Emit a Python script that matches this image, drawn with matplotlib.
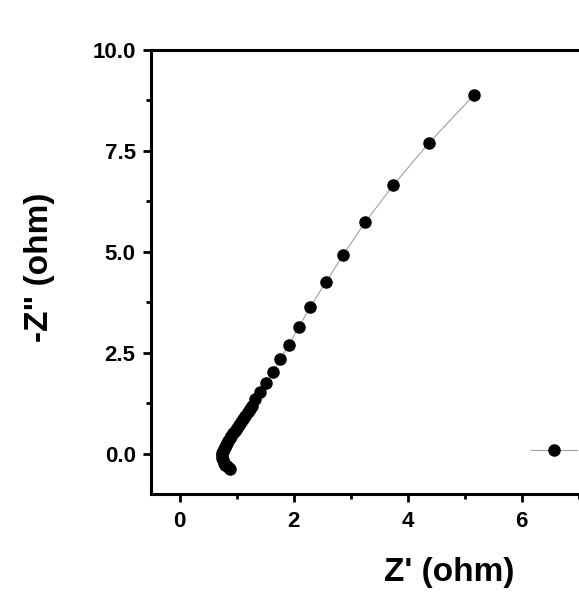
import matplotlib
matplotlib.use("Agg")
import matplotlib.pyplot as plt
from matplotlib.ticker import MultipleLocator

# Nyquist data: Z' (ohm) and -Z'' (ohm)
z_real = [5.163, 4.381, 3.754, 3.258, 2.872, 2.565, 2.298, 2.088, 1.918, 1.767,
          1.637, 1.518, 1.421, 1.330, 1.275,
          1.235, 1.195, 1.155, 1.115, 1.075, 1.040, 1.005, 0.970, 0.940, 0.910,
          0.880, 0.855, 0.830, 0.810, 0.790, 0.775, 0.760, 0.750, 0.745,
          0.745, 0.755, 0.775, 0.800, 0.830, 0.860, 0.880]
z_imag = [8.879, 7.705, 6.658, 5.735, 4.926, 4.243, 3.639, 3.126, 2.691, 2.334,
          2.012, 1.745, 1.517, 1.354, 1.188,
          1.100, 1.020, 0.940, 0.860, 0.780, 0.710, 0.640, 0.570, 0.500, 0.440,
          0.380, 0.320, 0.260, 0.210, 0.160, 0.110, 0.060, 0.010, -0.040,
          -0.100, -0.160, -0.220, -0.270, -0.310, -0.350, -0.370]

x_ticks = [0, 2, 4, 6]
y_ticks = [0.0, 2.5, 5.0, 7.5, 10.0]
x_label = "Z' (ohm)"
y_label = '-Z" (ohm)'

plt.rcParams['font.family'] = ['Liberation Sans', 'DejaVu Sans']
plt.rcParams['font.weight'] = 'bold'

W, H = 579, 594
fig = plt.figure(figsize=(W / 100, H / 100), dpi=100)
left_px, right_px, top_px, bot_px = 151, 749.5, 50, 494
ax = fig.add_axes([left_px / W, 1 - bot_px / H, (right_px - left_px) / W, (bot_px - top_px) / H])

line, = ax.plot(z_real, z_imag, color='#a0a0a0', lw=0.8, marker='o', ms=8,
                mfc='black', mec='black')

ax.set_xlim(-0.5, 10)
ax.set_ylim(-1, 10)
ax.set_xticks(x_ticks)
ax.set_yticks(y_ticks)
ax.set_yticklabels([f"{v:.1f}" for v in y_ticks])
ax.xaxis.set_minor_locator(MultipleLocator(1))
ax.yaxis.set_minor_locator(MultipleLocator(1.25))

for s in ax.spines.values():
    s.set_linewidth(2.2)
ax.tick_params(which='major', direction='out', length=6, width=2, labelsize=16)
ax.tick_params(which='minor', direction='out', length=3.5, width=2)
ax.tick_params(axis='x', which='major', pad=6)
ax.tick_params(axis='y', which='major', pad=5)
for lab in ax.get_xticklabels() + ax.get_yticklabels():
    lab.set_fontweight('bold')

fig.text(449 / W, 1 - 572 / H, x_label, ha='center', va='center',
         fontsize=24, fontweight='bold')
fig.text(40 / W, 1 - 267 / H, y_label, ha='center', va='center',
         rotation=90, fontsize=24, fontweight='bold')

fs = 14
ax.legend(handles=[line], labels=[''], loc='center left',
          bbox_to_anchor=(531 / W, 1 - 452 / H), bbox_transform=fig.transFigure,
          frameon=False, borderpad=0, borderaxespad=0, numpoints=1,
          handletextpad=0, handlelength=46 / (fs * 100 / 72), fontsize=fs)

fig.savefig("out.png", dpi=100)
